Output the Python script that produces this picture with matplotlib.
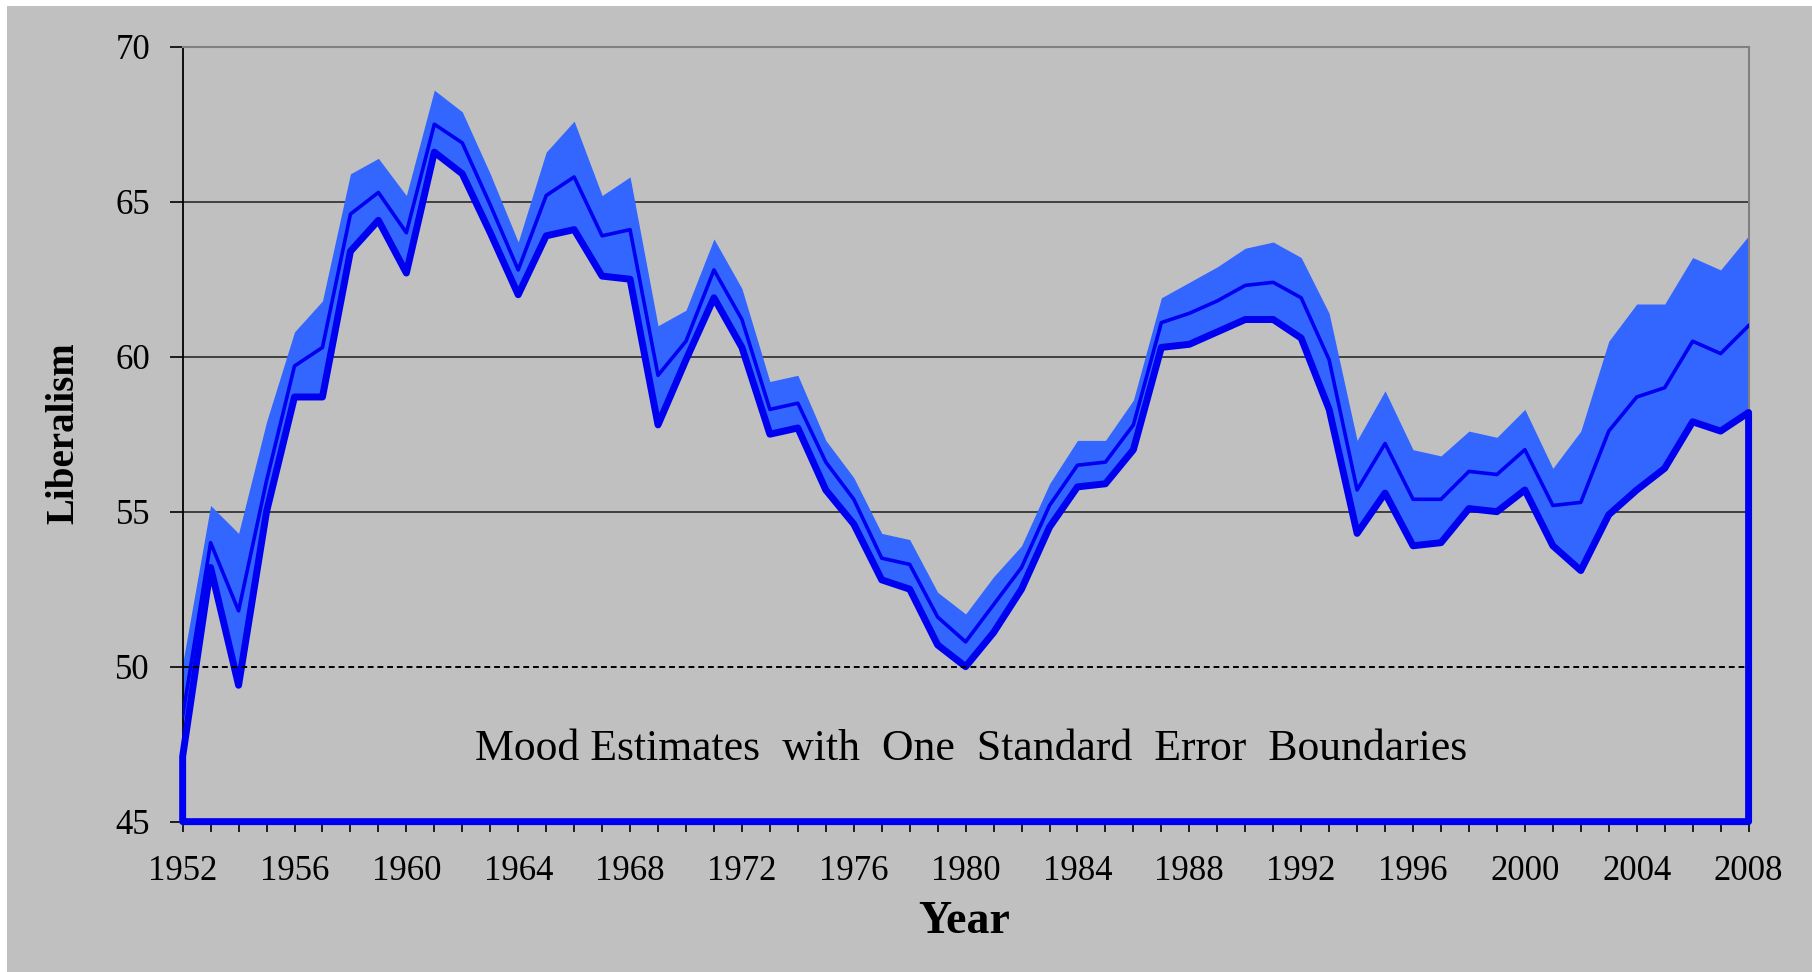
import numpy as np
import matplotlib
matplotlib.use("Agg")
import matplotlib.pyplot as plt
from matplotlib.patches import Rectangle

plt.rcParams['font.family'] = ['Liberation Serif', 'DejaVu Serif']

# Data
years = np.arange(1952, 2009)
upper = [50.1, 55.2, 54.3, 57.9, 60.8, 61.8, 65.9, 66.4, 65.2, 68.6,
         67.9, 65.9, 63.7, 66.6, 67.6, 65.2, 65.8, 61.0, 61.5, 63.8,
         62.2, 59.2, 59.4, 57.3, 56.1, 54.3, 54.1, 52.4, 51.7, 52.9,
         53.9, 55.9, 57.3, 57.3, 58.6, 61.9, 62.4, 62.9, 63.5, 63.7,
         63.2, 61.4, 57.3, 58.9, 57.0, 56.8, 57.6, 57.4, 58.3, 56.4,
         57.6, 60.5, 61.7, 61.7, 63.2, 62.8, 63.9]
mood = [48.4, 54.0, 51.8, 56.0, 59.7, 60.3, 64.6, 65.3, 64.0, 67.5,
        66.9, 64.9, 62.8, 65.2, 65.8, 63.9, 64.1, 59.4, 60.5, 62.8,
        61.2, 58.3, 58.5, 56.6, 55.4, 53.5, 53.3, 51.6, 50.8, 52.0,
        53.2, 55.2, 56.5, 56.6, 57.8, 61.1, 61.4, 61.8, 62.3, 62.4,
        61.9, 59.9, 55.7, 57.2, 55.4, 55.4, 56.3, 56.2, 57.0, 55.2,
        55.3, 57.6, 58.7, 59.0, 60.5, 60.1, 61.0]
lower = [47.1, 53.2, 49.4, 55.0, 58.7, 58.7, 63.4, 64.4, 62.7, 66.6,
         65.9, 64.0, 62.0, 63.9, 64.1, 62.6, 62.5, 57.8, 59.9, 61.9,
         60.3, 57.5, 57.7, 55.7, 54.6, 52.8, 52.5, 50.7, 50.0, 51.1,
         52.5, 54.5, 55.8, 55.9, 57.0, 60.3, 60.4, 60.8, 61.2, 61.2,
         60.6, 58.3, 54.3, 55.6, 53.9, 54.0, 55.1, 55.0, 55.7, 53.9,
         53.1, 54.9, 55.7, 56.4, 57.9, 57.6, 58.2]
y_ticks = [45, 50, 55, 60, 65, 70]
x_labels = np.arange(1952, 2009, 4)

bg = '#C0C0C0'
fig = plt.figure(figsize=(18.12, 9.72), dpi=100, facecolor=bg)
# thin white margins at top and left, like the slide crop
fig.patches.append(Rectangle((0, 1 - 6 / 972), 1, 6 / 972, transform=fig.transFigure,
                             facecolor='white', edgecolor='none'))
fig.patches.append(Rectangle((0, 0), 7 / 1812, 1, transform=fig.transFigure,
                             facecolor='white', edgecolor='none'))

ax = fig.add_axes([0.1008, 0.1547, 0.8642, 0.7972])
ax.set_facecolor(bg)
ax.set_xlim(1952, 2008)
ax.set_ylim(45, 70)

# grid lines
for v in [55, 60, 65]:
    ax.axhline(v, color='#404040', lw=1.4, zorder=1)
ax.axhline(50, color='black', lw=1.4, ls=(0, (3, 2)), zorder=4)

# error band and estimates
ax.fill_between(years, lower, upper, color='#3366FF', lw=0, zorder=2)
ax.plot(years, mood, color='#0000F0', lw=2.6, solid_joinstyle='round', zorder=3)
ax.fill_between(years, 45, lower, facecolor='none', edgecolor='#0000F0',
                lw=5, joinstyle='round', zorder=3, clip_on=False)

# spines
ax.spines['left'].set_color('black')
ax.spines['left'].set_linewidth(1.3)
ax.spines['bottom'].set_color('black')
ax.spines['top'].set_color('#808080')
ax.spines['top'].set_linewidth(1.5)
ax.spines['right'].set_color('#808080')
ax.spines['right'].set_linewidth(1.5)

ax.set_yticks(y_ticks)
ax.set_xticks(years, minor=True)
ax.set_xticks(x_labels)
ax.set_xticklabels([str(y) for y in x_labels])
ax.tick_params(axis='y', direction='out', length=9.5, width=1.2, pad=14,
               labelsize=25, colors='black')
ax.tick_params(axis='x', which='both', direction='out', length=7, width=1.2,
               pad=17, labelsize=25, colors='black')

ax.text(1980.2, 47.35, 'Mood Estimates  with  One  Standard  Error  Boundaries',
        ha='center', va='center', fontsize=31.5, color='black', zorder=5)

fig.text(63.6 / 1812, 1 - 433 / 972, 'Liberalism', rotation=90, ha='center',
         va='center', fontsize=28, fontweight='bold')
fig.text(964 / 1812, 1 - 922 / 972, 'Year', ha='center', va='center',
         fontsize=33, fontweight='bold')

fig.savefig('out.png', dpi=100, facecolor=bg)
